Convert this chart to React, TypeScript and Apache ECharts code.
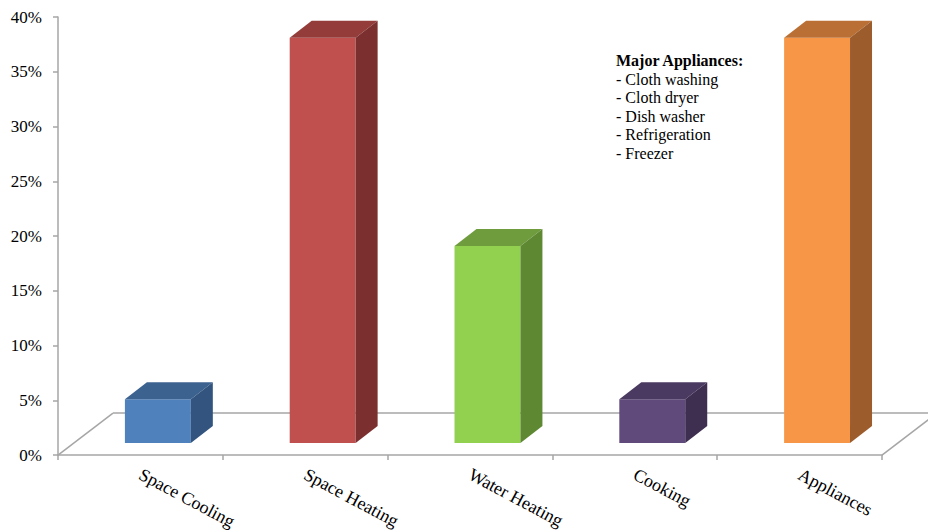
import React, { useEffect, useRef } from "react";
import * as echarts from "echarts";

const categories = ["Space Cooling", "Space Heating", "Water Heating", "Cooking", "Appliances"];
const shares = [4, 37, 18, 4, 37];
const frontColors = ["#4F81BD", "#C0504D", "#92D050", "#604A7B", "#F79646"];
const topColors = ["#3C6290", "#943C3A", "#6F9D3D", "#4A3A61", "#BA7034"];
const sideColors = ["#32547E", "#7B302F", "#5F8832", "#3E2F51", "#9C5C2B"];
const yMin = 0;
const yMax = 40;
const yStep = 5;
const noteTitle = "Major Appliances:";
const noteItems = ["- Cloth washing", "- Cloth dryer", "- Dish washer", "- Refrigeration", "- Freezer"];

const SERIF = "'Liberation Serif', 'Times New Roman', serif";
const AXIS_GRAY = "#A6A6A6";

export default function App() {
  const ref = useRef<HTMLDivElement>(null);

  useEffect(() => {
    document.body.style.margin = "0";
    if (!ref.current) return;
    const chart = echarts.init(ref.current, null, { renderer: "svg" });

    const floorDx = 55;
    const floorDy = -42;

    const noteGraphics: any[] = [
      {
        type: "text",
        x: 616,
        y: 60,
        style: {
          text: noteTitle,
          fontFamily: SERIF,
          fontSize: 16,
          fontWeight: "bold",
          fill: "#000",
          verticalAlign: "middle",
        },
      },
      ...noteItems.map((t, k) => ({
        type: "text",
        x: 616,
        y: 79 + k * 18.6,
        style: {
          text: t,
          fontFamily: SERIF,
          fontSize: 16,
          fill: "#000",
          verticalAlign: "middle",
        },
      })),
    ];

    chart.setOption({
      animation: false,
      grid: { left: 58, right: 46, top: 17, bottom: 75, containLabel: false },
      xAxis: {
        type: "category",
        data: categories,
        boundaryGap: true,
        axisLine: { show: true, lineStyle: { color: AXIS_GRAY, width: 1.5 } },
        axisTick: { show: true, length: 5, alignWithLabel: false, lineStyle: { color: AXIS_GRAY, width: 1.5 } },
        axisLabel: {
          rotate: -28,
          margin: 18,
          fontFamily: SERIF,
          fontSize: 18,
          color: "#000",
          interval: 0,
        },
        splitLine: { show: false },
      },
      yAxis: {
        type: "value",
        min: yMin,
        max: yMax,
        interval: yStep,
        axisLine: { show: true, lineStyle: { color: AXIS_GRAY, width: 1.5 } },
        axisTick: { show: true, length: 5, lineStyle: { color: AXIS_GRAY, width: 1.5 } },
        axisLabel: {
          formatter: "{value}%",
          margin: 16,
          fontFamily: SERIF,
          fontSize: 17,
          color: "#000",
        },
        splitLine: { show: false },
      },
      graphic: noteGraphics,
      series: [
        {
          type: "custom",
          name: "floor",
          silent: true,
          clip: false,
          z: 1,
          data: [[0, 0]],
          encode: { x: 0, y: 1 },
          renderItem: (params: any, api: any) => {
            const bw = api.size([1, 0])[0];
            const p0 = api.coord([0, 0]);
            const pN = api.coord([categories.length - 1, 0]);
            const left = p0[0] - bw / 2;
            const right = pN[0] + bw / 2;
            const y0 = p0[1];
            const ls = { stroke: AXIS_GRAY, lineWidth: 1.5, fill: "none" };
            return {
              type: "group",
              children: [
                { type: "line", shape: { x1: left, y1: y0, x2: left + floorDx, y2: y0 + floorDy }, style: ls },
                { type: "line", shape: { x1: left + floorDx, y1: y0 + floorDy, x2: right + floorDx, y2: y0 + floorDy }, style: ls },
                { type: "line", shape: { x1: right, y1: y0, x2: right + floorDx, y2: y0 + floorDy }, style: ls },
              ],
            };
          },
        },
        {
          type: "custom",
          name: "share",
          clip: false,
          z: 2,
          data: shares.map((v, i) => [i, v]),
          encode: { x: 0, y: 1 },
          renderItem: (params: any, api: any) => {
            const i = api.value(0);
            const v = api.value(1);
            const pv = api.coord([i, v]);
            const p0 = api.coord([i, 0]);
            const bw = api.size([1, 0])[0];
            const cx = pv[0];
            const lift = 12;
            const x1 = cx - 0.094 * bw;
            const x2 = cx + 0.306 * bw;
            const top = pv[1] - lift;
            const bottom = p0[1] - lift;
            const dx = 0.1335 * bw;
            const dy = -17;
            const idx = params.dataIndex;
            return {
              type: "group",
              children: [
                {
                  type: "rect",
                  shape: { x: x1, y: top, width: x2 - x1, height: bottom - top },
                  style: { fill: frontColors[idx] },
                },
                {
                  type: "polygon",
                  shape: { points: [[x1, top], [x2, top], [x2 + dx, top + dy], [x1 + dx, top + dy]] },
                  style: { fill: topColors[idx] },
                },
                {
                  type: "polygon",
                  shape: { points: [[x2, top], [x2 + dx, top + dy], [x2 + dx, bottom + dy], [x2, bottom]] },
                  style: { fill: sideColors[idx] },
                },
              ],
            };
          },
        },
      ],
    });

    return () => {
      chart.dispose();
    };
  }, []);

  return <div ref={ref} style={{ width: 928, height: 532 }} />;
}
